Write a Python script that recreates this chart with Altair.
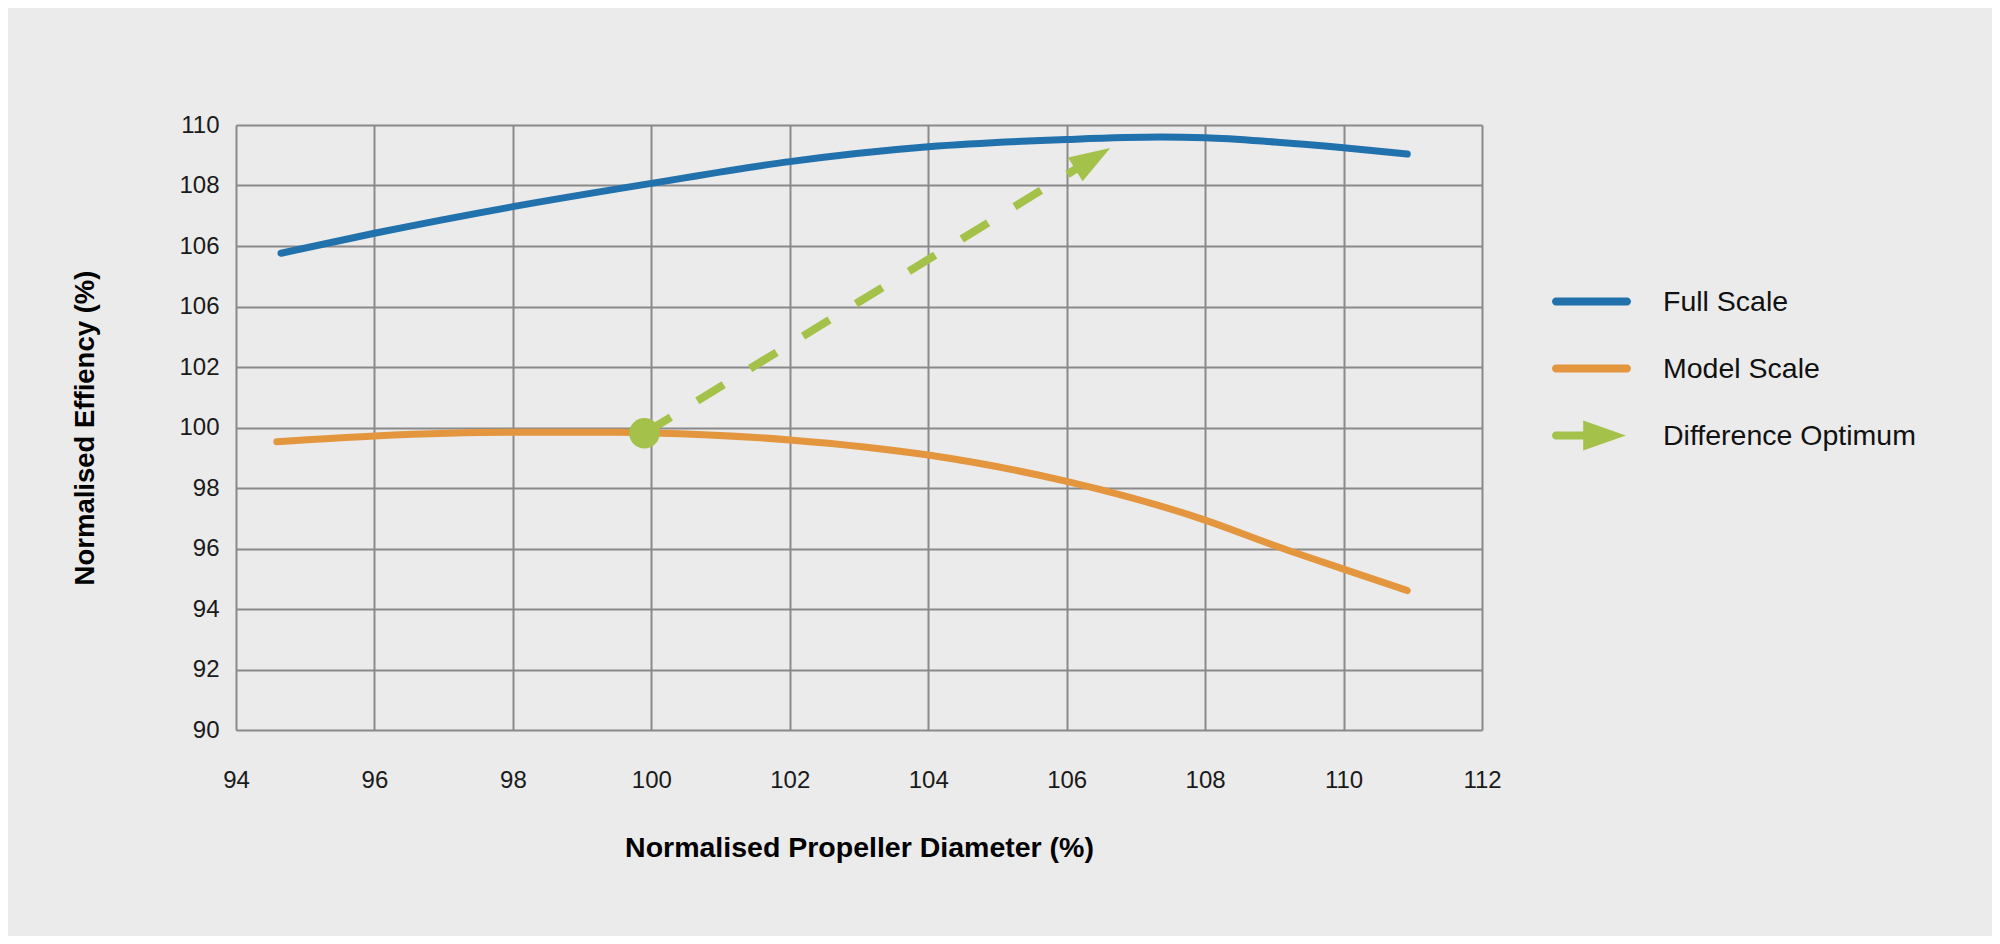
import math
import altair as alt
import pandas as pd

# ---------------- data ----------------
X_TICKS = [94, 96, 98, 100, 102, 104, 106, 108, 110, 112]
Y_TICKS = [90, 92, 94, 96, 98, 100, 102, 104, 106, 108, 110]
Y_TICK_LABELS = ["90", "92", "94", "96", "98", "100", "102", "106", "106", "108", "110"]

SERIES = ["Full Scale", "Model Scale", "Difference Optimum"]

FULL_X = [94.65, 96, 98, 100, 102, 104, 106, 107.35, 108, 109, 110, 110.92]
FULL_Y = [105.76, 106.42, 107.30, 108.07, 108.79, 109.28, 109.52, 109.60, 109.58, 109.44, 109.25, 109.04]

MODEL_X = [94.59, 96, 98, 99.5, 100, 102, 104, 106, 108, 109, 110, 110.92]
MODEL_Y = [99.53, 99.72, 99.84, 99.84, 99.82, 99.59, 99.09, 98.22, 96.94, 96.10, 95.32, 94.61]

ARROW_X = [99.90, 106.63]   # start (dot) and tip
ARROW_Y = [99.81, 109.24]

# ---------------- style ----------------
W, H = 1246, 605
BLUE, ORANGE, GREEN = "#2171ad", "#e3963e", "#a4c24a"
GRID = "#8a8a8a"
FONT = "Liberation Sans"
X_DOMAIN = [X_TICKS[0], X_TICKS[-1]]
Y_DOMAIN = [Y_TICKS[0], Y_TICKS[-1]]

lines_df = pd.concat([
    pd.DataFrame({"series": SERIES[0], "x": FULL_X, "y": FULL_Y}),
    pd.DataFrame({"series": SERIES[1], "x": MODEL_X, "y": MODEL_Y}),
], ignore_index=True)
arrow_df = pd.DataFrame({"x": ARROW_X, "y": ARROW_Y})
legend_df = pd.DataFrame({"series": SERIES})

label_expr = "[" + ",".join("'%s'" % s for s in Y_TICK_LABELS) + "][indexof([" + \
    ",".join(str(v) for v in Y_TICKS) + "], datum.value)]"

x_axis = alt.Axis(values=X_TICKS, format="d", grid=True, gridColor=GRID, gridWidth=2, domain=False,
                  ticks=False, labelFont=FONT, labelFontSize=24, labelColor="#1a1a1a",
                  labelPadding=38, labelFlush=False, labelOverlap=False,
                  title="Normalised Propeller Diameter (%)", titleFont=FONT, titleFontSize=28.5,
                  titleFontWeight="bold", titleColor="#000000", titlePadding=41)
y_axis = alt.Axis(values=Y_TICKS, grid=True, gridColor=GRID, gridWidth=2, domain=False,
                  ticks=False, labelFont=FONT, labelFontSize=24, labelColor="#1a1a1a",
                  labelPadding=17, labelExpr=label_expr, labelFlush=False, labelOverlap=False,
                  title="Normalised Effiency (%)", titleFont=FONT, titleFontSize=27.5,
                  titleFontWeight="bold", titleColor="#000000", titlePadding=79)

xs = alt.Scale(domain=X_DOMAIN, nice=False, zero=False)
ys = alt.Scale(domain=Y_DOMAIN, nice=False, zero=False)

lines = alt.Chart(lines_df).mark_line(strokeWidth=7, strokeCap="round", interpolate="monotone").encode(
    x=alt.X("x:Q", scale=xs, axis=x_axis),
    y=alt.Y("y:Q", scale=ys, axis=y_axis),
    color=alt.Color("series:N", scale=alt.Scale(domain=SERIES[:2], range=[BLUE, ORANGE]), legend=None),
    order=alt.Order("x:Q"),
)

arrow_line = alt.Chart(arrow_df).mark_line(color=GREEN, strokeWidth=8, strokeDash=[31, 31],
                                           strokeCap="butt").encode(
    x=alt.X("x:Q", scale=xs), y=alt.Y("y:Q", scale=ys))

dot = alt.Chart(arrow_df.iloc[[0]]).mark_point(shape="circle", size=930, filled=True, color=GREEN,
                                               opacity=1, strokeWidth=0).encode(
    x=alt.X("x:Q", scale=xs), y=alt.Y("y:Q", scale=ys))

# arrow head orientation from the screen geometry of the arrow
dx_px = (ARROW_X[1] - ARROW_X[0]) / (X_DOMAIN[1] - X_DOMAIN[0]) * W
dy_px = (ARROW_Y[1] - ARROW_Y[0]) / (Y_DOMAIN[1] - Y_DOMAIN[0]) * H
ANGLE = 360 - math.degrees(math.atan2(dy_px, dx_px))
HEAD_PATH = "M0,0L-2,-0.68L-2,0.68Z"

head = alt.Chart(arrow_df.iloc[[1]]).mark_point(shape=HEAD_PATH, size=1681, angle=ANGLE, filled=True,
                                                color=GREEN, opacity=1, strokeWidth=0).encode(
    x=alt.X("x:Q", scale=xs), y=alt.Y("y:Q", scale=ys))

BAR_PATH = "M-0.9,-0.1L0.9,-0.1A0.1,0.1 0 0 1 0.9,0.1L-0.9,0.1A0.1,0.1 0 0 1 -0.9,-0.1Z"
ARROW_PATH = ("M-0.9,-0.1L-0.21,-0.1L-0.21,-0.38L0.87,0L-0.21,0.38L-0.21,0.1L-0.9,0.1"
              "A0.1,0.1 0 0 1 -0.9,-0.1Z")

leg = alt.Legend(title=None, orient="none", legendX=1316, legendY=137, direction="vertical",
                 symbolSize=6241, symbolStrokeWidth=0, symbolOpacity=1,
                 labelFont=FONT, labelFontSize=28.5, labelColor="#111111", labelOffset=32,
                 labelLimit=0, rowPadding=13, padding=0)

legend_layer = alt.Chart(legend_df).transform_filter("false").mark_point(
    filled=True, opacity=1, strokeWidth=0).encode(
    fill=alt.Fill("series:N", scale=alt.Scale(domain=SERIES, range=[BLUE, ORANGE, GREEN]), legend=leg),
    shape=alt.Shape("series:N", scale=alt.Scale(domain=SERIES, range=[BAR_PATH, BAR_PATH, ARROW_PATH]),
                    legend=leg),
)

chart = alt.layer(lines, arrow_line, dot, head, legend_layer).properties(
    width=W, height=H,
    padding={"left": 228, "top": 117, "right": 510, "bottom": 206},
    autosize=alt.AutoSizeParams(type="none"),
    background="#ebebeb",
).configure_view(stroke=None, fill="white")

chart.save("out.html", embed_options={"renderer": "svg", "actions": False})
